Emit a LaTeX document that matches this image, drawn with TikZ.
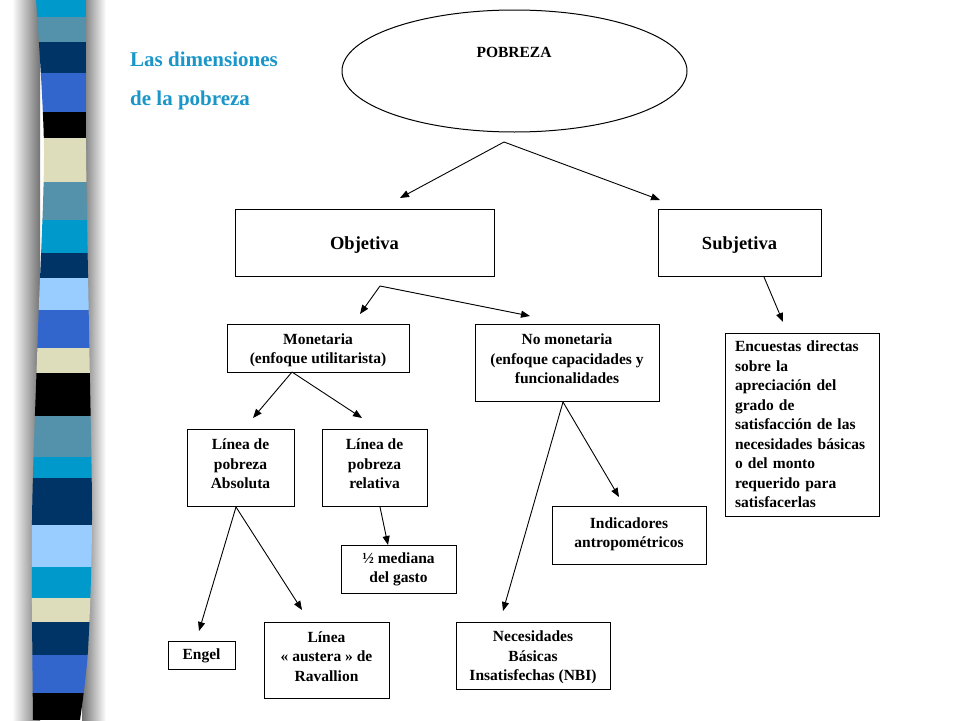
\documentclass[tikz,border=0pt]{standalone}
\usepackage{fontspec}
\setmainfont{Liberation Serif}
\usetikzlibrary{arrows.meta,shapes.geometric}
\definecolor{scyan}{RGB}{0,153,204}
\definecolor{ssteel}{RGB}{84,145,170}
\definecolor{snavy}{RGB}{0,51,102}
\definecolor{sroyal}{RGB}{51,102,204}
\definecolor{slight}{RGB}{153,204,255}
\definecolor{sbeige}{RGB}{221,221,187}
\definecolor{titlec}{RGB}{26,150,200}
\definecolor{shadowc}{RGB}{115,115,115}
\newcommand\boxlines[2]{\raisebox{#1}[\height][\depth]{\begin{tabular}{@{}c@{}}#2\end{tabular}}}
\newcommand\boxone[2]{\raisebox{#1}[\height][\depth]{#2}}
\tikzset{
  box/.style={draw, line width=1pt, inner sep=0pt,
    font=\bfseries\fontsize{15.5}{19.5}\selectfont},
  bigbox/.style={box, font=\bfseries\fontsize{18.5}{22}\selectfont},
  conn/.style={line width=0.9pt, -{Triangle[length=9pt,width=7pt]}},
}
\begin{document}
\begin{tikzpicture}[x=1pt,y=-1pt]
\useasboundingbox (0,0) rectangle (960,720);
% left decorative stripe with shadows
\shade[left color=white, right color=shadowc] (12,0) rectangle (40,720);
\shade[left color=shadowc, right color=white] (82,0) rectangle (106,720);
\begin{scope}
\clip plot[smooth] coordinates {(36,0) (44,150) (38,330) (32,520) (33,720)}
  -- plot[smooth] coordinates {(80,720) (88,650) (92,520) (89,330) (86,150) (86,0)} -- cycle;
\foreach \a/\b/\c in {0/17/scyan, 17/42/ssteel, 42/73/snavy, 73/112/sroyal,
  112/138/black, 138/182/sbeige, 182/220/ssteel, 220/253/scyan, 253/278/snavy,
  278/310/slight, 310/348/sroyal, 348/373/sbeige, 373/416/black, 416/457/ssteel,
  457/478/scyan, 478/525/snavy, 525/567/slight, 567/598/scyan, 598/622/sbeige,
  622/655/snavy, 655/693/sroyal, 693/720/black}
  \fill[\c] (20,\a) rectangle (100,\b);
\end{scope}
% title
\node[anchor=west, align=left, inner sep=0pt, text=titlec,
  font=\bfseries\fontsize{21}{39}\selectfont] (title) at (130,81)
  {Las dimensiones\\de la pobreza};
% nodes
\node[draw, ellipse, line width=1pt, minimum width=345, minimum height=122, inner sep=0pt] (pob) at (514.5,71) {};
\node[font=\bfseries\fontsize{15.5}{18}\selectfont, inner sep=0pt] (pobt) at (514,52) {POBREZA};
\node[bigbox, minimum width=259, minimum height=67] (obj) at (364.5,242.5) {\boxone{-3pt}{Objetiva}};
\node[bigbox, minimum width=163, minimum height=67] (subj) at (739.5,242.5) {\boxone{-3pt}{Subjetiva}};
\node[box, minimum width=182, minimum height=48] (mon) at (318,348) {\boxlines{-2pt}{Monetaria\\(enfoque utilitarista)}};
\node[box, minimum width=184, minimum height=77] (nomon) at (567,362.5) {\boxlines{2pt}{No monetaria\\(enfoque capacidades y\\funcionalidades}};
\node[box, minimum width=154, minimum height=183, text width=134, align=left] (enc) at (802,424.5)
  {Encuestas directas\\sobre la\\apreciación del\\grado de\\satisfacción de las\\necesidades básicas\\o del monto\\requerido para\\satisfacerlas};
\node[box, minimum width=107, minimum height=77] (labs) at (240.5,467.5) {\boxlines{2pt}{Línea de\\pobreza\\Absoluta}};
\node[box, minimum width=105, minimum height=77] (lrel) at (374.5,467.5) {\boxlines{2pt}{Línea de\\pobreza\\relativa}};
\node[box, minimum width=115, minimum height=48] (med) at (398.5,569) {\boxlines{0pt}{½ mediana\\del gasto}};
\node[box, minimum width=154, minimum height=58] (ind) at (629,535) {\boxlines{1pt}{Indicadores\\antropométricos}};
\node[box, minimum width=67, minimum height=28] (engel) at (201.5,655) {\boxone{-1pt}{Engel}};
\node[box, minimum width=125, minimum height=76] (rav) at (326.5,660) {\boxlines{2pt}{Línea\\« austera » de\\Ravallion}};
\node[box, minimum width=154, minimum height=67] (nbi) at (533,655.5) {\boxlines{-2pt}{Necesidades\\Básicas\\Insatisfechas (NBI)}};
% connector end points
\coordinate (p0) at (504,142);
\coordinate (p1) at (400,198);
\coordinate (p2) at (660,200);
\coordinate (o0) at (380,286);
\coordinate (o1) at (360,314);
\coordinate (o2) at (530,316);
\coordinate (s0) at (764,277);
\coordinate (s1) at (783,322);
\coordinate (m0) at (292,372);
\coordinate (m1) at (253,418);
\coordinate (m2) at (362,418);
\coordinate (a0) at (236,507);
\coordinate (a1) at (199,631);
\coordinate (a2) at (302,610);
\coordinate (r0) at (380,507);
\coordinate (r1) at (388,545);
\coordinate (n0) at (563,402);
\coordinate (n1) at (503,611);
\coordinate (n2) at (619,497);
% connectors
\draw[conn] (p0) -- (p1);
\draw[conn] (p0) -- (p2);
\draw[conn] (o0) -- (o1);
\draw[conn] (o0) -- (o2);
\draw[conn] (s0) -- (s1);
\draw[conn] (m0) -- (m1);
\draw[conn] (m0) -- (m2);
\draw[conn] (a0) -- (a1);
\draw[conn] (a0) -- (a2);
\draw[conn] (r0) -- (r1);
\draw[conn] (n0) -- (n1);
\draw[conn] (n0) -- (n2);
\end{tikzpicture}
\end{document}
